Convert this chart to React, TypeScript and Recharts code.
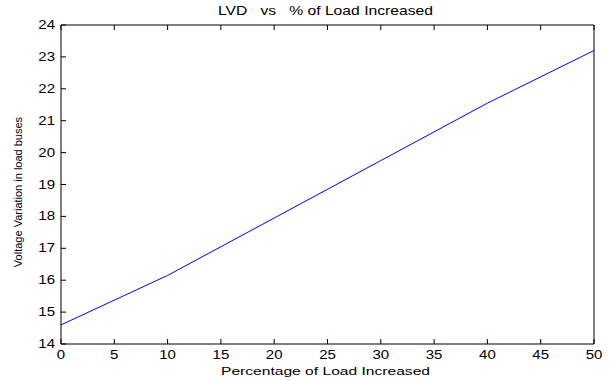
import React from 'react';
import { LineChart, Line, XAxis, YAxis } from 'recharts';

const loadIncrease = [0, 10, 20, 30, 40, 50];
const lvdValues = [14.6, 16.15, 17.95, 19.75, 21.55, 23.2];
const xTicks = [0, 5, 10, 15, 20, 25, 30, 35, 40, 45, 50];
const yTicks = [14, 15, 16, 17, 18, 19, 20, 21, 22, 23, 24];

const data = loadIncrease.map((x, i) => ({ x, lvd: lvdValues[i] }));

const FONT = 'Arial, "Liberation Sans", Helvetica, sans-serif';
const TICK_LEN = 5;

// MATLAB-style ticks point inward; labels are stretched horizontally like the export
const BottomTick = (props: any) => {
    const { x, y, payload } = props;
    return (
        <g>
            <line x1={x} y1={y} x2={x} y2={y - TICK_LEN} stroke="#000" />
            <text
                transform={`translate(${x},${y + 15}) scale(1.25,1)`}
                textAnchor="middle"
                fontSize={12}
                fontFamily={FONT}
                fill="#000"
            >
                {payload.value}
            </text>
        </g>
    );
};

const TopTick = (props: any) => {
    const { x, y } = props;
    return <line x1={x} y1={y} x2={x} y2={y + TICK_LEN} stroke="#000" />;
};

const LeftTick = (props: any) => {
    const { x, y, payload } = props;
    return (
        <g>
            <line x1={x} y1={y} x2={x + TICK_LEN} y2={y} stroke="#000" />
            <text
                transform={`translate(${x - 6},${y + 4}) scale(1.25,1)`}
                textAnchor="end"
                fontSize={12}
                fontFamily={FONT}
                fill="#000"
            >
                {payload.value}
            </text>
        </g>
    );
};

const RightTick = (props: any) => {
    const { x, y } = props;
    return <line x1={x} y1={y} x2={x - TICK_LEN} y2={y} stroke="#000" />;
};

export default function App() {
    return (
        <div style={{ position: 'absolute', left: 0, top: 0, width: 610, height: 381, background: '#fff' }}>
            <LineChart width={610} height={381} data={data} margin={{ top: 24, right: 15, bottom: 36, left: 60 }}>
                <XAxis
                    dataKey="x"
                    type="number"
                    domain={[0, 50]}
                    ticks={xTicks}
                    height={1}
                    tickSize={0}
                    tickMargin={0}
                    tickLine={false}
                    tick={BottomTick}
                    axisLine={{ stroke: '#000' }}
                    interval={0}
                />
                <XAxis
                    xAxisId="top"
                    orientation="top"
                    dataKey="x"
                    type="number"
                    domain={[0, 50]}
                    ticks={xTicks}
                    height={1}
                    tickSize={0}
                    tickMargin={0}
                    tickLine={false}
                    tick={TopTick}
                    axisLine={{ stroke: '#000' }}
                    interval={0}
                />
                <YAxis
                    type="number"
                    domain={[14, 24]}
                    ticks={yTicks}
                    width={1}
                    tickSize={0}
                    tickMargin={0}
                    tickLine={false}
                    tick={LeftTick}
                    axisLine={{ stroke: '#000' }}
                    interval={0}
                />
                <YAxis
                    yAxisId="right"
                    orientation="right"
                    type="number"
                    domain={[14, 24]}
                    ticks={yTicks}
                    width={1}
                    tickSize={0}
                    tickMargin={0}
                    tickLine={false}
                    tick={RightTick}
                    axisLine={{ stroke: '#000' }}
                    interval={0}
                />
                <Line
                    type="linear"
                    dataKey="lvd"
                    stroke="#0000ff"
                    strokeWidth={1}
                    dot={false}
                    isAnimationActive={false}
                />
            </LineChart>
            <svg
                width={610}
                height={381}
                style={{ position: 'absolute', left: 0, top: 0, pointerEvents: 'none' }}
            >
                <text
                    x={218}
                    y={15}
                    fontSize={13}
                    fontFamily={FONT}
                    fill="#000"
                    textLength={215}
                    lengthAdjust="spacingAndGlyphs"
                    style={{ whiteSpace: 'pre' }}
                >
                    {'LVD   vs   % of Load Increased'}
                </text>
                <text
                    x={221}
                    y={375}
                    fontSize={11.5}
                    fontFamily={FONT}
                    fill="#000"
                    textLength={209}
                    lengthAdjust="spacingAndGlyphs"
                >
                    Percentage of Load Increased
                </text>
                <text
                    transform="translate(22,192) rotate(-90)"
                    textAnchor="middle"
                    fontSize={11}
                    fontFamily={FONT}
                    fill="#000"
                >
                    Voltage Variation in load buses
                </text>
            </svg>
        </div>
    );
}
